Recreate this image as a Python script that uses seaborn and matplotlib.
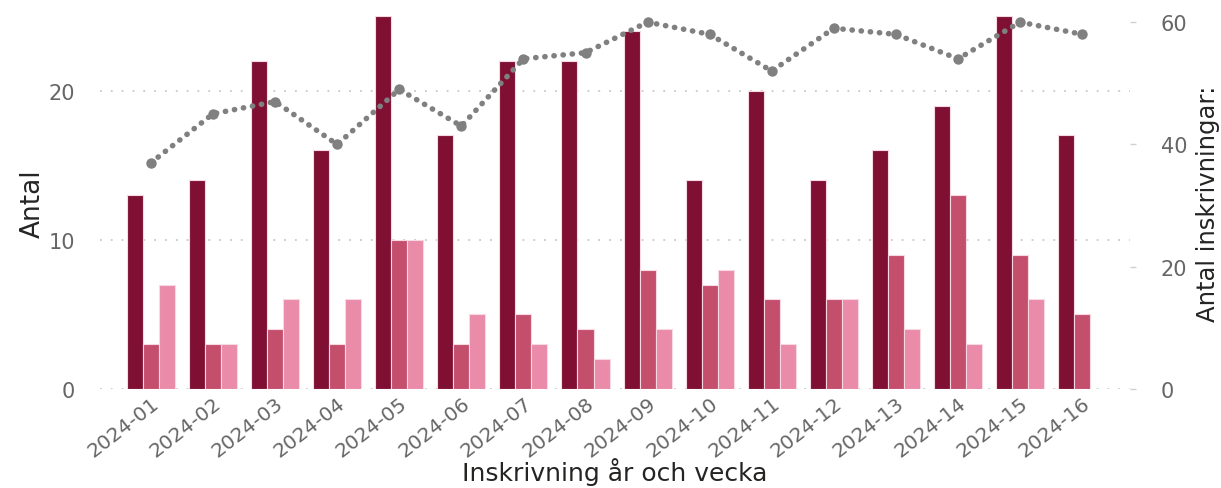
import numpy as np
import pandas as pd
import matplotlib
matplotlib.use("Agg")
import matplotlib.pyplot as plt
import seaborn as sns

weeks = ["2024-01", "2024-02", "2024-03", "2024-04", "2024-05", "2024-06", "2024-07", "2024-08",
         "2024-09", "2024-10", "2024-11", "2024-12", "2024-13", "2024-14", "2024-15", "2024-16"]
serie_1 = [13, 14, 22, 16, 25, 17, 22, 22, 24, 14, 20, 14, 16, 19, 25, 17]
serie_2 = [3, 3, 4, 3, 10, 3, 5, 4, 8, 7, 6, 6, 9, 13, 9, 5]
serie_3 = [7, 3, 6, 6, 10, 5, 3, 2, 4, 8, 3, 6, 4, 3, 6, np.nan]
inskrivningar = [37, 45, 47, 40, 49, 43, 54, 55, 60, 58, 52, 59, 58, 54, 60, 58]

series_names = ["Serie 1", "Serie 2", "Serie 3"]
colors = ["#7F1034", "#C44F6D", "#E98BA9"]

df = pd.DataFrame({"vecka": weeks * 3,
                   "antal": serie_1 + serie_2 + serie_3,
                   "serie": [s for s in series_names for _ in weeks]})

sns.set_style("white")
plt.rcParams["font.family"] = ["DejaVu Sans"]

fig = plt.figure(figsize=(12.21, 4.89), dpi=100)
ax = fig.add_axes([100 / 1221, 1 - 390 / 489, 1030 / 1221, 373 / 489])

sns.barplot(data=df, x="vecka", y="antal", hue="serie", palette=colors, hue_order=series_names,
            width=0.775, gap=0, edgecolor="#F6D9E2", linewidth=0.8, saturation=1,
            legend=False, ax=ax)

ax.set_ylim(0, 25)
ax.set_yticks([0, 10, 20])
ax.set_xlim(-0.82, 15.77)
ax.grid(axis="y", color="#C8C8C8", linestyle=(0, (1, 5)), linewidth=1.3)
ax.set_axisbelow(True)
for s in ax.spines.values():
    s.set_visible(False)
ax.tick_params(axis="y", length=0, pad=18, labelsize=15, labelcolor="#666666")
ax.tick_params(axis="x", length=0, pad=3, labelsize=14.5, labelcolor="#666666")
plt.setp(ax.get_xticklabels(), rotation=38, ha="right", rotation_mode="anchor")
ax.set_ylabel("Antal", fontsize=19, color="#252423", labelpad=2)
ax.set_xlabel("Inskrivning år och vecka", fontsize=18, color="#252423", labelpad=-2)

ax2 = ax.twinx()
sns.lineplot(x=np.arange(len(weeks)), y=inskrivningar, ax=ax2, color="#808080",
             linewidth=4.0, linestyle=(0, (0.05, 1.6)), dash_capstyle="round",
             marker="o", markersize=7.5, markeredgewidth=0)
ax2.set_ylim(0, 61)
ax2.set_yticks([0, 20, 40, 60])
ax2.set_xlim(-0.82, 15.77)
for s in ax2.spines.values():
    s.set_visible(False)
ax2.tick_params(axis="y", length=4, width=1, color="#D0D0D0", pad=18, labelsize=15,
                labelcolor="#666666")
ax2.set_ylabel("Antal inskrivningar:", fontsize=17.5, color="#252423", labelpad=6)

fig.savefig("out.png", dpi=100, facecolor="white")
